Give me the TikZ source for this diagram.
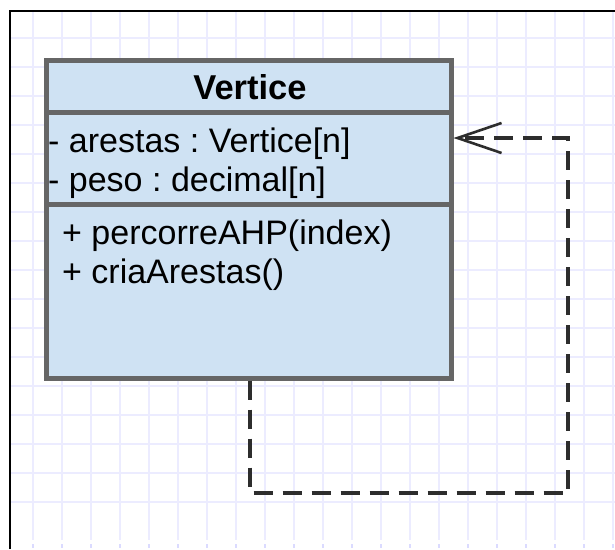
\documentclass[tikz,border=0pt]{standalone}
\usepackage{fontspec}
\setmainfont{Liberation Sans}
\usetikzlibrary{arrows.meta}
\frenchspacing
\definecolor{gridc}{RGB}{236,236,255}
\definecolor{boxfill}{RGB}{207,226,243}
\definecolor{boxline}{RGB}{102,102,102}
\definecolor{linkc}{RGB}{45,45,45}
\tikzset{
  classbox/.style={draw=boxline, line width=5pt, fill=boxfill, rectangle,
    minimum width=404.5pt, minimum height=318pt, inner sep=0pt},
  sepline/.style={draw=boxline, line width=5pt},
  title/.style={font=\fontsize{34.5}{40}\selectfont\bfseries, inner sep=0pt},
  member/.style={font=\fontsize{34}{40}\selectfont, inner sep=0pt, anchor=base west},
  dependency/.style={draw=linkc, line width=3.2pt, dash pattern=on 19pt off 10pt,
    -{Straight Barb[length=44pt,width=30pt,line width=2.6pt]}},
}
\begin{document}
\begin{tikzpicture}[x=1pt,y=-1pt]
  \useasboundingbox (0,0) rectangle (615,549);
  \fill[white] (0,0) rectangle (615,549);
  % background grid
  \foreach \gx in {33,62,...,613} \draw[gridc, line width=2pt] (\gx,11) -- (\gx,540);
  \foreach \gy in {38,67,...,530} \draw[gridc, line width=2pt] (11,\gy) -- (615,\gy);
  \foreach \gx in {33,62,...,613} \draw[gridc!70!blue!40, line width=1.2pt] (\gx,544) -- (\gx,548);
  % frame of the canvas
  \draw[black, line width=2pt] (10,549) -- (10,11) -- (615,11);
  % the class
  \node[classbox] (vertice) at (248.75,219) {};
  \draw[sepline] (vertice.west |- 0,112.5) -- (vertice.east |- 0,112.5);
  \draw[sepline] (vertice.west |- 0,204.5) -- (vertice.east |- 0,204.5);
  \node[title] (vname) at (250,87) {Vertice};
  \node[member] (attr1) at (48,152) {- arestas : Vertice[n]};
  \node[member] (attr2) at (48,191) {- peso : decimal[n]};
  \node[member] (op1) at (62,244) {+ percorreAHP(index)};
  \node[member] (op2) at (62,283) {+ criaArestas()};
  % self dependency
  \coordinate (bend1) at (250,493);
  \coordinate (bend2) at (568,493);
  \coordinate (bend3) at (568,138);
  \draw[dependency] (vertice.south -| bend1) -- (bend1) -- (bend2) -- (bend3) -- (vertice.east |- bend3);
\end{tikzpicture}
\end{document}
